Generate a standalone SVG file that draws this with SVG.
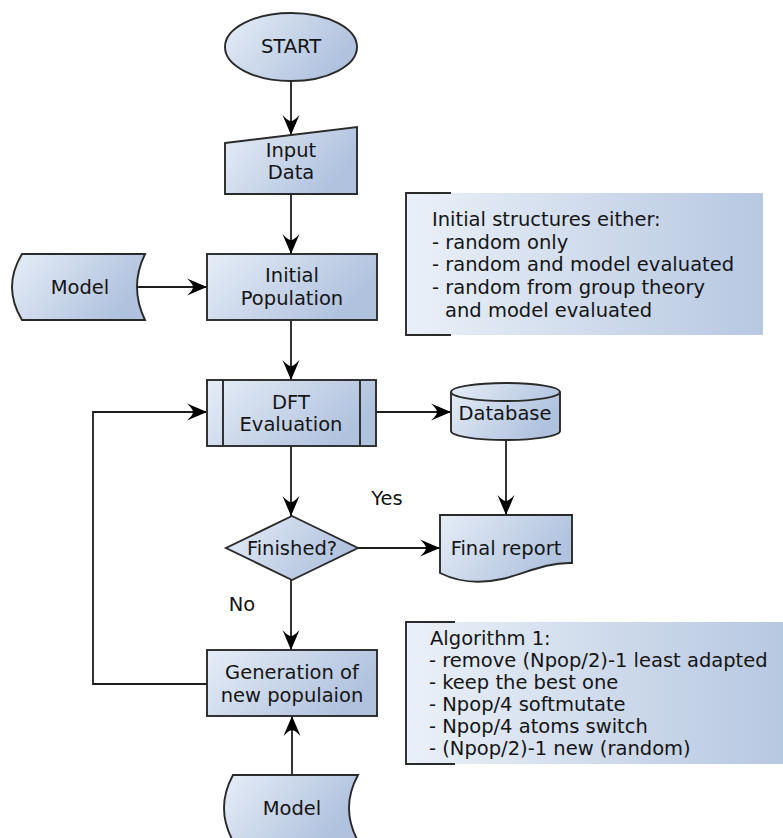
<svg xmlns="http://www.w3.org/2000/svg" width="783" height="838" viewBox="0 0 783 838">
<defs>
<linearGradient id="nodeFill" x1="0" y1="0" x2="1" y2="0.4">
<stop offset="0" stop-color="#e6edf7"/>
<stop offset="1" stop-color="#b0c2de"/>
</linearGradient>
<linearGradient id="noteFill" x1="0" y1="0" x2="1" y2="0">
<stop offset="0" stop-color="#eaf0f8"/>
<stop offset="1" stop-color="#b7c8e1"/>
</linearGradient>
<marker id="arrow" markerUnits="userSpaceOnUse" viewBox="-21 -9 22 18" refX="0" refY="0" markerWidth="22" markerHeight="18" orient="auto">
<path d="M0,0 L-20,-8.5 Q-14,-3 -14,0 Q-14,3 -20,8.5 Z" fill="#000"/>
</marker>
<style>
.shape{fill:url(#nodeFill);stroke:#2a2a2a;stroke-width:1.9}
.note{fill:url(#noteFill);stroke:none}
.bracket{fill:none;stroke:#2a2a2a;stroke-width:1.9}
.conn{fill:none;stroke:#1e1e1e;stroke-width:1.8;marker-end:url(#arrow)}
.line{fill:none;stroke:#2a2a2a;stroke-width:1.9}
text{font-family:"DejaVu Sans",Verdana,sans-serif;font-size:19.5px;fill:#151515}
.c{text-anchor:middle}
</style>
</defs>

<g id="connectors">
<path class="conn" d="M291,81 V135"/>
<path class="conn" d="M291,194 V254"/>
<path class="conn" d="M137,287 H207"/>
<path class="conn" d="M291,320 V380"/>
<path class="conn" d="M376,412 H451"/>
<path class="conn" d="M506,440 V515"/>
<path class="conn" d="M291,446 V516"/>
<path class="conn" d="M358,548 H440"/>
<path class="conn" d="M291,580 V650"/>
<path class="conn" d="M207,684 H93 V412 H207"/>
<path class="conn" d="M292,775 V716"/>
</g>

<g id="start">
<ellipse class="shape" cx="291" cy="47" rx="66" ry="34"/>
<text class="c" x="291" y="53">START</text>
</g>

<g id="input-data">
<polygon class="shape" points="225,143 357,127 357,194 225,194"/>
<text class="c" x="291" y="157">Input</text>
<text class="c" x="291" y="179">Data</text>
</g>

<g id="model-1">
<path class="shape" d="M22,254 L145,254 Q129,287 145,320 L22,320 Q2,287 22,254 Z"/>
<text class="c" x="80" y="294">Model</text>
</g>

<g id="initial-population">
<rect class="shape" x="207" y="254" width="170" height="66"/>
<text class="c" x="292" y="282">Initial</text>
<text class="c" x="292" y="305">Population</text>
</g>

<g id="note-initial">
<rect class="note" x="406" y="193" width="357" height="142"/>
<path class="bracket" d="M451,193 H406 V335 H451"/>
<text x="432" y="226">Initial structures either:</text>
<text x="432" y="249">- random only</text>
<text x="432" y="271">- random and model evaluated</text>
<text x="432" y="294">- random from group theory</text>
<text x="445" y="317">and model evaluated</text>
</g>

<g id="dft-evaluation">
<rect class="shape" x="207" y="380" width="169" height="66"/>
<path class="line" d="M223,380 V446 M360,380 V446"/>
<text class="c" x="291" y="409">DFT</text>
<text class="c" x="291" y="431">Evaluation</text>
</g>

<g id="database">
<path class="shape" d="M451,392 A54.5,9 0 0 1 560,392 V431 A54.5,9 0 0 1 451,431 Z"/>
<path class="line" d="M451,392 A54.5,9 0 0 0 560,392"/>
<text class="c" x="505" y="420">Database</text>
</g>

<g id="finished">
<polygon class="shape" points="292,516 358,548 292,580 226,548"/>
<text class="c" x="292" y="555">Finished?</text>
</g>

<g id="final-report">
<path class="shape" d="M440,515 H572 V563 C545,562 522,575 502,579 C480,584 460,583 440,573 Z"/>
<text class="c" x="506" y="555">Final report</text>
</g>

<g id="labels">
<text class="c" x="387" y="505">Yes</text>
<text class="c" x="242" y="611">No</text>
</g>

<g id="generation">
<rect class="shape" x="207" y="650" width="170" height="66"/>
<text class="c" x="292" y="679">Generation of</text>
<text class="c" x="292" y="702">new populaion</text>
</g>

<g id="note-algorithm">
<rect class="note" x="406" y="622" width="377" height="142"/>
<path class="bracket" d="M455,622 H406 V764 H455"/>
<text x="430" y="645">Algorithm 1:</text>
<text x="429" y="667">- remove (Npop/2)-1 least adapted</text>
<text x="429" y="689">- keep the best one</text>
<text x="429" y="711">- Npop/4 softmutate</text>
<text x="429" y="733">- Npop/4 atoms switch</text>
<text x="429" y="755">- (Npop/2)-1 new (random)</text>
</g>

<g id="model-2">
<path class="shape" d="M233,775 L358,775 Q340,808 358,841 L233,841 Q215,808 233,775 Z"/>
<text class="c" x="292" y="815">Model</text>
</g>
</svg>
